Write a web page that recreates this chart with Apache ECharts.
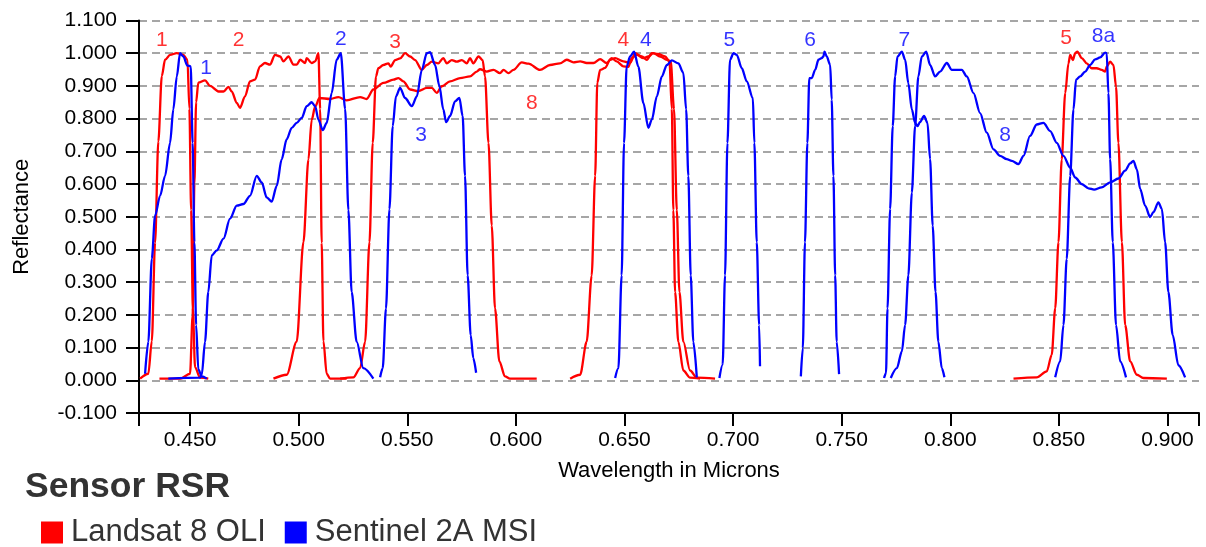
<!DOCTYPE html>
<html>
<head>
<meta charset="utf-8">
<script src="https://cdn.jsdelivr.net/npm/echarts@6/dist/echarts.min.js"></script>
<style>
html,body{margin:0;padding:0;background:#fff;}
#chart{width:1206px;height:547px;}
</style>
</head>
<body>
<div id="chart"></div>
<script>
// ---------- DATA ----------
const TITLE = 'Sensor RSR';
const SERIES_NAMES = ['Landsat 8 OLI', 'Sentinel 2A MSI'];
const X_TICK_LABELS = [0.45, 0.5, 0.55, 0.6, 0.65, 0.7, 0.75, 0.8, 0.85, 0.9];
const X_MIN = 0.4265, X_MAX = 0.9145;

// Landsat 8 OLI bands: [wavelength (µm), relative response]
const OLI_B1 = [[0.4270,0.005],[0.4308,0.02],[0.4324,0.12],[0.4339,0.42],[0.4354,0.73],[0.4370,0.93],[0.4385,0.98],[0.4408,0.995],[0.4439,1.0],[0.4469,0.995],[0.4488,0.98],[0.4497,0.83],[0.4505,0.52],[0.4513,0.22],[0.4523,0.04],[0.4546,0.008],[0.4584,0.005]];
const OLI_B2 = [[0.4359,0.005],[0.4454,0.005],[0.4500,0.02],[0.4512,0.2],[0.4520,0.6],[0.4528,0.85],[0.4538,0.91],[0.4569,0.917],[0.4592,0.9],[0.4631,0.883],[0.4654,0.883],[0.4677,0.897],[0.4692,0.883],[0.4715,0.848],[0.4730,0.833],[0.4753,0.868],[0.4776,0.914],[0.4799,0.919],[0.4822,0.96],[0.4845,0.97],[0.4868,0.965],[0.4891,0.995],[0.4915,0.99],[0.4930,0.975],[0.4953,0.99],[0.4976,0.965],[0.4991,0.965],[0.5007,0.98],[0.5030,0.97],[0.5037,0.985],[0.5060,0.97],[0.5076,0.975],[0.5091,1.0],[0.5099,0.83],[0.5106,0.42],[0.5114,0.12],[0.5129,0.02],[0.5145,0.005],[0.5221,0.005]];
const OLI_B3 = [[0.5191,0.005],[0.5252,0.009],[0.5283,0.037],[0.5306,0.118],[0.5326,0.422],[0.5341,0.726],[0.5356,0.929],[0.5367,0.954],[0.5390,0.964],[0.5413,0.969],[0.5424,0.959],[0.5444,0.979],[0.5467,0.984],[0.5490,1.0],[0.5513,0.99],[0.5536,0.979],[0.5567,0.949],[0.5590,0.964],[0.5613,0.974],[0.5643,0.969],[0.5666,0.985],[0.5682,0.969],[0.5705,0.979],[0.5728,0.974],[0.5751,0.979],[0.5774,0.969],[0.5789,0.985],[0.5804,0.969],[0.5828,0.99],[0.5847,0.979],[0.5858,0.929],[0.5874,0.726],[0.5889,0.473],[0.5904,0.22],[0.5924,0.058],[0.5950,0.012],[0.5973,0.005],[0.6096,0.005]];
const OLI_B4 = [[0.6250,0.005],[0.6296,0.017],[0.6326,0.118],[0.6349,0.32],[0.6365,0.625],[0.6375,0.91],[0.6388,0.949],[0.6411,0.955],[0.6434,0.98],[0.6457,0.985],[0.6495,0.975],[0.6526,0.97],[0.6549,1.0],[0.6580,0.99],[0.6603,0.98],[0.6626,1.0],[0.6656,0.998],[0.6687,0.99],[0.6707,0.975],[0.6718,0.83],[0.6725,0.52],[0.6733,0.27],[0.6748,0.118],[0.6771,0.03],[0.6802,0.008],[0.6848,0.005]];
const OLI_B5 = [[0.8291,0.005],[0.8398,0.009],[0.8444,0.027],[0.8467,0.078],[0.8483,0.22],[0.8498,0.422],[0.8513,0.675],[0.8529,0.878],[0.8544,0.969],[0.8552,0.995],[0.8564,0.979],[0.8575,1.0],[0.8585,1.005],[0.8605,0.985],[0.8628,0.969],[0.8651,0.954],[0.8674,0.954],[0.8697,0.949],[0.8713,0.944],[0.8720,0.959],[0.8736,0.974],[0.8751,0.964],[0.8763,0.898],[0.8774,0.726],[0.8790,0.422],[0.8805,0.169],[0.8828,0.058],[0.8859,0.017],[0.8889,0.007],[0.8997,0.005]];
const OLI_B8 = [[0.4884,0.005],[0.4945,0.017],[0.4991,0.118],[0.5022,0.422],[0.5045,0.675],[0.5060,0.796],[0.5076,0.837],[0.5096,0.863],[0.5145,0.86],[0.5183,0.866],[0.5221,0.856],[0.5283,0.866],[0.5313,0.86],[0.5344,0.889],[0.5390,0.909],[0.5436,0.919],[0.5459,0.924],[0.5482,0.914],[0.5513,0.889],[0.5551,0.884],[0.5590,0.894],[0.5613,0.894],[0.5636,0.879],[0.5659,0.899],[0.5697,0.914],[0.5743,0.924],[0.5789,0.929],[0.5820,0.944],[0.5835,0.951],[0.5866,0.944],[0.5897,0.949],[0.5927,0.939],[0.5943,0.949],[0.5966,0.939],[0.5989,0.949],[0.6027,0.972],[0.6058,0.968],[0.6111,0.949],[0.6157,0.964],[0.6203,0.969],[0.6234,0.98],[0.6265,0.972],[0.6296,0.975],[0.6326,0.97],[0.6357,0.97],[0.6388,0.982],[0.6418,0.97],[0.6441,0.985],[0.6464,0.975],[0.6495,0.96],[0.6518,0.958],[0.6533,0.985],[0.6557,0.995],[0.6587,0.985],[0.6610,0.99],[0.6633,1.0],[0.6664,0.99],[0.6695,0.98],[0.6713,0.975],[0.6728,0.83],[0.6741,0.52],[0.6753,0.27],[0.6771,0.118],[0.6802,0.03],[0.6833,0.008],[0.6917,0.005]];

// Sentinel 2A MSI bands
const MSI_B1 = [[0.4293,0.02],[0.4308,0.118],[0.4324,0.372],[0.4339,0.503],[0.4362,0.564],[0.4385,0.625],[0.4408,0.726],[0.4423,0.828],[0.4439,0.929],[0.4454,1.0],[0.4469,0.99],[0.4488,0.962],[0.4503,0.96],[0.4512,0.726],[0.4520,0.422],[0.4528,0.169],[0.4538,0.033],[0.4554,0.012],[0.4577,0.005]];
const MSI_B2 = [[0.4400,0.005],[0.4546,0.008],[0.4554,0.017],[0.4569,0.118],[0.4584,0.27],[0.4600,0.382],[0.4623,0.397],[0.4654,0.433],[0.4684,0.494],[0.4715,0.534],[0.4746,0.539],[0.4776,0.564],[0.4807,0.625],[0.4830,0.605],[0.4853,0.559],[0.4876,0.546],[0.4899,0.594],[0.4922,0.676],[0.4945,0.737],[0.4968,0.772],[0.4991,0.787],[0.5014,0.802],[0.5037,0.838],[0.5060,0.85],[0.5076,0.838],[0.5091,0.797],[0.5111,0.765],[0.5129,0.787],[0.5152,0.878],[0.5175,0.98],[0.5194,1.0],[0.5214,0.83],[0.5229,0.52],[0.5244,0.27],[0.5267,0.118],[0.5298,0.037],[0.5344,0.005]];
const MSI_B3 = [[0.5375,0.009],[0.5387,0.037],[0.5402,0.219],[0.5418,0.523],[0.5433,0.777],[0.5448,0.868],[0.5467,0.894],[0.5490,0.863],[0.5521,0.838],[0.5544,0.868],[0.5567,0.949],[0.5590,1.0],[0.5605,1.003],[0.5628,0.964],[0.5648,0.899],[0.5666,0.828],[0.5679,0.789],[0.5697,0.808],[0.5720,0.853],[0.5740,0.863],[0.5755,0.808],[0.5766,0.625],[0.5778,0.321],[0.5792,0.138],[0.5804,0.068],[0.5817,0.023]];
const MSI_B4 = [[0.6457,0.007],[0.6472,0.037],[0.6487,0.321],[0.6498,0.726],[0.6510,0.959],[0.6526,0.99],[0.6544,1.005],[0.6564,0.959],[0.6587,0.848],[0.6610,0.772],[0.6626,0.797],[0.6649,0.868],[0.6672,0.929],[0.6695,0.964],[0.6718,0.978],[0.6748,0.969],[0.6771,0.94],[0.6784,0.828],[0.6794,0.625],[0.6805,0.321],[0.6817,0.118],[0.6833,0.009]];
const MSI_B5 = [[0.6937,0.007],[0.6952,0.048],[0.6963,0.321],[0.6974,0.726],[0.6986,0.98],[0.7002,1.0],[0.7017,0.995],[0.7040,0.954],[0.7063,0.914],[0.7091,0.863],[0.7098,0.726],[0.7109,0.422],[0.7120,0.169],[0.7124,0.043]];
const MSI_B6 = [[0.7312,0.012],[0.7321,0.098],[0.7331,0.422],[0.7342,0.726],[0.7351,0.924],[0.7362,0.924],[0.7378,0.949],[0.7393,0.98],[0.7408,0.985],[0.7416,0.99],[0.7421,1.005],[0.7431,0.99],[0.7447,0.964],[0.7454,0.858],[0.7462,0.625],[0.7470,0.321],[0.7477,0.118],[0.7488,0.019]];
const MSI_B7 = [[0.7695,0.007],[0.7704,0.022],[0.7711,0.22],[0.7723,0.524],[0.7735,0.777],[0.7746,0.929],[0.7757,0.99],[0.7777,1.005],[0.7792,0.98],[0.7807,0.908],[0.7823,0.828],[0.7838,0.787],[0.7849,0.777],[0.7861,0.79],[0.7879,0.808],[0.7895,0.787],[0.7907,0.676],[0.7919,0.473],[0.7932,0.27],[0.7945,0.118],[0.7961,0.037],[0.7973,0.009]];
const MSI_B8 = [[0.7726,0.007],[0.7754,0.037],[0.7777,0.088],[0.7792,0.169],[0.7807,0.321],[0.7823,0.574],[0.7838,0.777],[0.7853,0.929],[0.7869,0.99],[0.7889,1.005],[0.7907,0.964],[0.7930,0.929],[0.7953,0.944],[0.7984,0.97],[0.8007,0.949],[0.8030,0.949],[0.8053,0.949],[0.8076,0.929],[0.8107,0.878],[0.8137,0.817],[0.8168,0.757],[0.8199,0.706],[0.8229,0.686],[0.8260,0.676],[0.8283,0.671],[0.8314,0.661],[0.8337,0.686],[0.8367,0.747],[0.8398,0.782],[0.8429,0.787],[0.8460,0.762],[0.8490,0.726],[0.8521,0.686],[0.8552,0.65],[0.8575,0.62],[0.8605,0.6],[0.8636,0.587],[0.8662,0.583],[0.8697,0.59],[0.8736,0.605],[0.8774,0.617],[0.8805,0.641],[0.8828,0.663],[0.8843,0.671],[0.8859,0.645],[0.8874,0.585],[0.8897,0.534],[0.8920,0.499],[0.8935,0.514],[0.8958,0.544],[0.8974,0.524],[0.8989,0.422],[0.9004,0.27],[0.9024,0.138],[0.9050,0.046],[0.9081,0.009]];
const MSI_B8A = [[0.8483,0.009],[0.8506,0.058],[0.8521,0.169],[0.8536,0.371],[0.8552,0.625],[0.8567,0.828],[0.8579,0.919],[0.8598,0.929],[0.8621,0.944],[0.8644,0.964],[0.8667,0.981],[0.8690,0.987],[0.8713,1.002],[0.8720,1.0],[0.8728,0.878],[0.8736,0.676],[0.8748,0.422],[0.8763,0.169],[0.8782,0.058],[0.8809,0.009]];

// Band name labels: [wavelength, reflectance, text]
const OLI_LABELS = [[0.4370,1.04,'1'],[0.4723,1.04,'2'],[0.5444,1.035,'3'],[0.6495,1.04,'4'],[0.8533,1.047,'5'],[0.6073,0.846,'8']];
const MSI_LABELS = [[0.4574,0.954,'1'],[0.5194,1.043,'2'],[0.5564,0.749,'3'],[0.6598,1.039,'4'],[0.6983,1.039,'5'],[0.7355,1.039,'6'],[0.7789,1.04,'7'],[0.8252,0.749,'8'],[0.8705,1.051,'8a']];

// ---------- CHART ----------
const FONT = 'Liberation Sans, Arial, Helvetica, sans-serif';
const RED = '#ff0000', BLUE = '#0000ff';
const oliBands = [OLI_B1, OLI_B2, OLI_B3, OLI_B4, OLI_B5, OLI_B8];
const msiBands = [MSI_B1, MSI_B2, MSI_B3, MSI_B4, MSI_B5, MSI_B6, MSI_B7, MSI_B8, MSI_B8A];

function lineSeries(name, color, data) {
  return {
    type: 'line', name: name, data: data, showSymbol: false, symbol: 'none',
    smooth: 0.3, smoothMonotone: 'x',
    lineStyle: { color: color, width: 2.3 }, itemStyle: { color: color },
    silent: true, z: 3
  };
}
function labelSeries(id, color, arr) {
  return {
    type: 'scatter', name: id, symbolSize: 0, silent: true, z: 5,
    data: arr.map(d => ({ value: [d[0], d[1]], name: d[2] })),
    label: { show: true, position: 'inside', formatter: '{b}', color: color, fontSize: 21, fontFamily: FONT }
  };
}

const series = [];
oliBands.forEach(b => series.push(lineSeries(SERIES_NAMES[0], RED, b)));
msiBands.forEach(b => series.push(lineSeries(SERIES_NAMES[1], BLUE, b)));
series.push(labelSeries('oliLabels', RED, OLI_LABELS));
series.push(labelSeries('msiLabels', BLUE, MSI_LABELS));

const chart = echarts.init(document.getElementById('chart'), null, { renderer: 'canvas' });
chart.setOption({
  animation: false,
  backgroundColor: '#fff',
  textStyle: { fontFamily: FONT },
  title: {
    text: TITLE, left: 20, top: 464,
    textStyle: { fontSize: 35.5, fontWeight: 'bold', color: '#333', fontFamily: FONT }
  },
  legend: {
    data: SERIES_NAMES.map(n => ({ name: n, icon: 'rect' })),
    left: 36, top: 512, itemWidth: 22, itemHeight: 22, itemGap: 19,
    textStyle: { fontSize: 31, color: '#333', fontFamily: FONT, padding: [0, 0, 0, 3] },
    selectedMode: false
  },
  grid: { left: 139, right: 7, top: 20.5, bottom: 134, containLabel: false },
  xAxis: {
    type: 'value', min: X_MIN, max: X_MAX,
    name: 'Wavelength in Microns', nameLocation: 'middle', nameGap: 47,
    nameTextStyle: { fontSize: 22, color: '#000', fontFamily: FONT },
    axisLine: { show: true, onZero: false, lineStyle: { color: '#000', width: 2 } },
    axisTick: { show: true, length: 13, lineStyle: { color: '#000', width: 2 },
      customValues: [X_MIN].concat(X_TICK_LABELS, [X_MAX]) },
    axisLabel: { show: true, margin: 17, fontSize: 21, color: '#000', fontFamily: FONT,
      customValues: X_TICK_LABELS, formatter: v => Number(v).toFixed(3) },
    splitLine: { show: false }
  },
  yAxis: {
    type: 'value', min: -0.1, max: 1.1, interval: 0.1,
    name: 'Reflectance', nameLocation: 'middle', nameGap: 106, nameRotate: 90,
    nameTextStyle: { fontSize: 22, color: '#000', fontFamily: FONT },
    axisLine: { show: true, lineStyle: { color: '#000', width: 2 } },
    axisTick: { show: true, length: 13, lineStyle: { color: '#000', width: 2 } },
    axisLabel: { margin: 22, fontSize: 21, color: '#000', fontFamily: FONT,
      formatter: v => Number(v).toFixed(3) },
    splitLine: { show: true, lineStyle: { color: '#a6a6a6', width: 2, type: [8, 5] } }
  },
  series: series
});
</script>
</body>
</html>
